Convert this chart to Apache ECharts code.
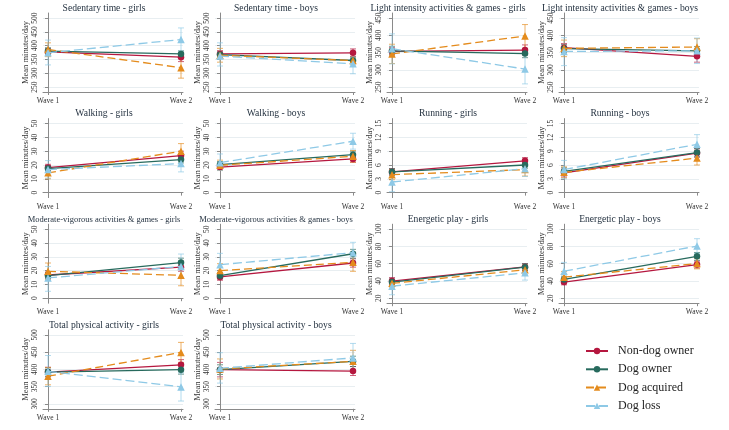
<!DOCTYPE html>
<html><head><meta charset="utf-8">
<script src="https://cdn.jsdelivr.net/npm/echarts@6/dist/echarts.min.js"></script>
<style>html,body{margin:0;padding:0;background:#fff}#c{width:729px;height:430px}</style>
</head><body><div id="c"></div>
<script>
// ---------- data ----------
const panelTitles = [
  'Sedentary time - girls', 'Sedentary time - boys',
  'Light intensity activities & games - girls', 'Light intensity activities & games - boys',
  'Walking - girls', 'Walking - boys', 'Running - girls', 'Running - boys',
  'Moderate-vigorous activities & games - girls', 'Moderate-vigorous activities & games - boys',
  'Energetic play - girls', 'Energetic play - boys',
  'Total physical activity - girls', 'Total physical activity - boys'
];
const waveLabels = ['Wave 1', 'Wave 2'];
const groupNames = ['Non-dog owner', 'Dog owner', 'Dog acquired', 'Dog loss'];
const yAxisTitle = 'Mean minutes/day';

const yTickMin  = [250, 250, 250, 250, 0, 0, 0, 0, 0, 0, 20, 20, 300, 300];
const yTickMax  = [500, 500, 450, 450, 50, 50, 15, 15, 50, 50, 100, 100, 500, 500];
const yTickStep = [50, 50, 50, 50, 10, 10, 3, 3, 10, 10, 20, 20, 50, 50];

// [wave1, wave2] per panel
const nonDogMean = [[377,358],[370,374],[353,357],[364,339],[18.1,26.8],[18.5,24.4],[4.5,6.9],[4.3,8.6],[16.8,22.5],[15.4,25.5],[39.8,56.3],[38.7,59],[392,413],[399,395]];
const nonDogLo   = [[365,342],[358,360],[343,343],[352,322],[16,24],[16.5,22],[3.8,6.1],[3.4,7.7],[14.5,19.5],[13,22.5],[36,52],[35.5,55],[378,398],[378,382]];
const nonDogHi   = [[390,374],[382,388],[364,372],[376,357],[20.5,30],[20.5,27],[5.2,7.6],[5.1,9.5],[19,25.5],[18,28.5],[44,60],[42,63],[406,428],[420,408]];

const dogOwnMean = [[380,370],[367,346],[355,347],[361,355],[17.4,23.9],[20.3,27.5],[4.5,6.0],[4.6,8.7],[16.3,25.8],[16.3,32.2],[38.7,56],[41.8,68.6],[392,399],[399,423]];
const dogOwnLo   = [[368,360],[356,334],[343,335],[349,343],[15.5,21.5],[18,25],[3.8,5.3],[3.8,7.8],[14,22.5],[14,29],[35.5,52],[38,64],[380,386],[385,408]];
const dogOwnHi   = [[392,381],[378,358],[368,359],[373,367],[19.5,26.3],[22.5,30],[5.2,6.7],[5.4,9.6],[18.6,29],[18.6,35.4],[42,60],[45.5,73],[404,412],[413,438]];

const dogAcqMean = [[386,320],[365,346],[346,398],[362,366],[14.3,30],[19.8,26.3],[3.9,5.0],[4.4,7.5],[19.5,16.6],[20,26],[37.2,52.9],[44.4,60.2],[380,449],[401,423]];
const dogAcqLo   = [[360,282],[340,325],[318,362],[338,342],[10,24.5],[16,22],[2.8,3.6],[3.2,6.0],[13.5,9],[15,19.5],[32,47],[38,54],[355,420],[372,393]];
const dogAcqHi   = [[410,358],[390,367],[374,431],[386,390],[18.5,35.5],[23.5,30.5],[5.0,6.4],[5.6,9.0],[25.5,22],[25,32.5],[42.5,58.5],[51,66],[405,478],[430,455]];

const dogLossMean = [[374,422],[362,334],[361,302],[353,355],[16.7,21],[21.7,37.2],[2.3,5.2],[5.0,10.5],[14.7,23],[24.3,33],[34,49.4],[51.3,80.5],[394,349],[403,433]];
const dogLossLo   = [[330,380],[326,298],[317,259],[312,318],[10.5,15],[16,31.5],[0.2,3.5],[3.0,8.5],[5,15],[16,27],[24,41],[42.5,72],[350,308],[360,395]];
const dogLossHi   = [[420,464],[410,368],[404,346],[393,392],[23.2,27],[28,43],[4.6,6.8],[7.0,12.6],[23,32],[32.5,40.5],[43,58],[61.5,89],[440,390],[448,475]];

// ---------- styles ----------
const groupData = [
  {mean: nonDogMean, lo: nonDogLo, hi: nonDogHi, color: '#b5173f', symbol: 'circle', size: 6.5, dash: 'solid'},
  {mean: dogOwnMean, lo: dogOwnLo, hi: dogOwnHi, color: '#276a5d', symbol: 'circle', size: 6.5, dash: 'solid'},
  {mean: dogAcqMean, lo: dogAcqLo, hi: dogAcqHi, color: '#e48b1c', symbol: 'triangle', size: 7.5, dash: [8, 4]},
  {mean: dogLossMean, lo: dogLossLo, hi: dogLossHi, color: '#8ec9e6', symbol: 'triangle', size: 7.5, dash: [9, 4]}
];
const titleFontSizes = [9.6, 9.6, 9.6, 9.6, 9.6, 9.6, 9.6, 9.6, 8.5, 8.5, 9.6, 9.6, 9.6, 9.6];

const FONT = '"Liberation Serif", "Times New Roman", serif';
const colX0 = 43, colStep = 172, plotW = 140;
const rowTop0 = 18, rowStep = 105.6, tickSpan = 69, pad = 5;
const xMin = -5 / 133, xMax = 1 + 2 / 133;

const grids = [], xAxes = [], yAxes = [], titles = [], series = [];

panelTitles.forEach((t, i) => {
  const row = Math.floor(i / 4), col = i % 4;
  const left = colX0 + col * colStep;
  const topTick = rowTop0 + row * rowStep;
  grids.push({left: left, top: topTick - pad, width: plotW, height: tickSpan + 2 * pad});
  const ticks = [];
  for (let v = yTickMin[i]; v <= yTickMax[i] + 1e-9; v += yTickStep[i]) ticks.push(v);
  const range = yTickMax[i] - yTickMin[i];
  const ypad = range * pad / tickSpan;
  xAxes.push({
    gridIndex: i, type: 'value', min: xMin, max: xMax,
    axisLine: {show: true, lineStyle: {color: '#8a8a8a', width: 1}},
    axisTick: {show: true, length: 3, customValues: [0, 1], lineStyle: {color: '#8a8a8a'}},
    axisLabel: {customValues: [0, 1], margin: 5, fontFamily: FONT, fontSize: 7.5, color: '#333',
      formatter: v => (Math.abs(v) < 1e-6 ? waveLabels[0] : waveLabels[1])},
    splitLine: {show: false}
  });
  yAxes.push({
    gridIndex: i, type: 'value', min: yTickMin[i] - ypad, max: yTickMax[i] + ypad,
    name: yAxisTitle, nameLocation: 'middle', nameGap: 11, nameRotate: 90,
    nameTextStyle: {fontFamily: FONT, fontSize: 8.5, color: '#333'},
    axisLine: {show: true, lineStyle: {color: '#8a8a8a', width: 1}},
    axisTick: {show: true, length: 3, customValues: ticks, lineStyle: {color: '#8a8a8a'}},
    axisLabel: {customValues: ticks, rotate: 90, margin: 4, fontFamily: FONT, fontSize: 7.5, color: '#333'},
    splitLine: {show: true, lineStyle: {color: '#e8eef1', width: 1}}
  });
  titles.push({
    text: t, left: left + plotW / 2 - 9, top: topTick - 9 - titleFontSizes[i] * 0.6, textAlign: 'center', padding: 0,
    textStyle: {fontFamily: FONT, fontSize: titleFontSizes[i], fontWeight: 'normal', color: '#1f2d3c'}
  });

  groupData.forEach((g, k) => {
    const c = g.color;
    series.push({
      type: 'custom', xAxisIndex: i, yAxisIndex: i, z: 1, silent: true,
      data: [[0, g.lo[i][0], g.hi[i][0]], [1, g.lo[i][1], g.hi[i][1]]],
      encode: {x: 0, y: [1, 2]},
      renderItem: (params, api) => {
        const x = api.value(0);
        const pLo = api.coord([x, api.value(1)]);
        const pHi = api.coord([x, api.value(2)]);
        const cw = 3;
        const st = {stroke: c, lineWidth: 0.9, opacity: 0.75};
        return {type: 'group', children: [
          {type: 'line', shape: {x1: pLo[0], y1: pLo[1], x2: pHi[0], y2: pHi[1]}, style: st},
          {type: 'line', shape: {x1: pLo[0] - cw, y1: pLo[1], x2: pLo[0] + cw, y2: pLo[1]}, style: st},
          {type: 'line', shape: {x1: pHi[0] - cw, y1: pHi[1], x2: pHi[0] + cw, y2: pHi[1]}, style: st}
        ]};
      }
    });
    series.push({
      name: groupNames[k], type: 'line', xAxisIndex: i, yAxisIndex: i, z: 2 + k,
      data: [[0, g.mean[i][0]], [1, g.mean[i][1]]],
      symbol: g.symbol, symbolSize: g.size, showSymbol: true,
      lineStyle: {color: c, width: 1.3, type: g.dash},
      itemStyle: {color: c, borderWidth: 0}
    });
  });
});

const chart = echarts.init(document.getElementById('c'), null, {renderer: 'canvas'});
chart.setOption({
  animation: false,
  backgroundColor: '#ffffff',
  title: titles,
  grid: grids,
  xAxis: xAxes,
  yAxis: yAxes,
  legend: {
    data: groupNames, orient: 'vertical', left: 585, top: 345,
    itemWidth: 22, itemHeight: 8, itemGap: 6.3, padding: 0,
    textStyle: {fontFamily: FONT, fontSize: 12, color: '#222', padding: [0, 0, 0, 5]}
  },
  series: series
});
</script>
</body></html>
